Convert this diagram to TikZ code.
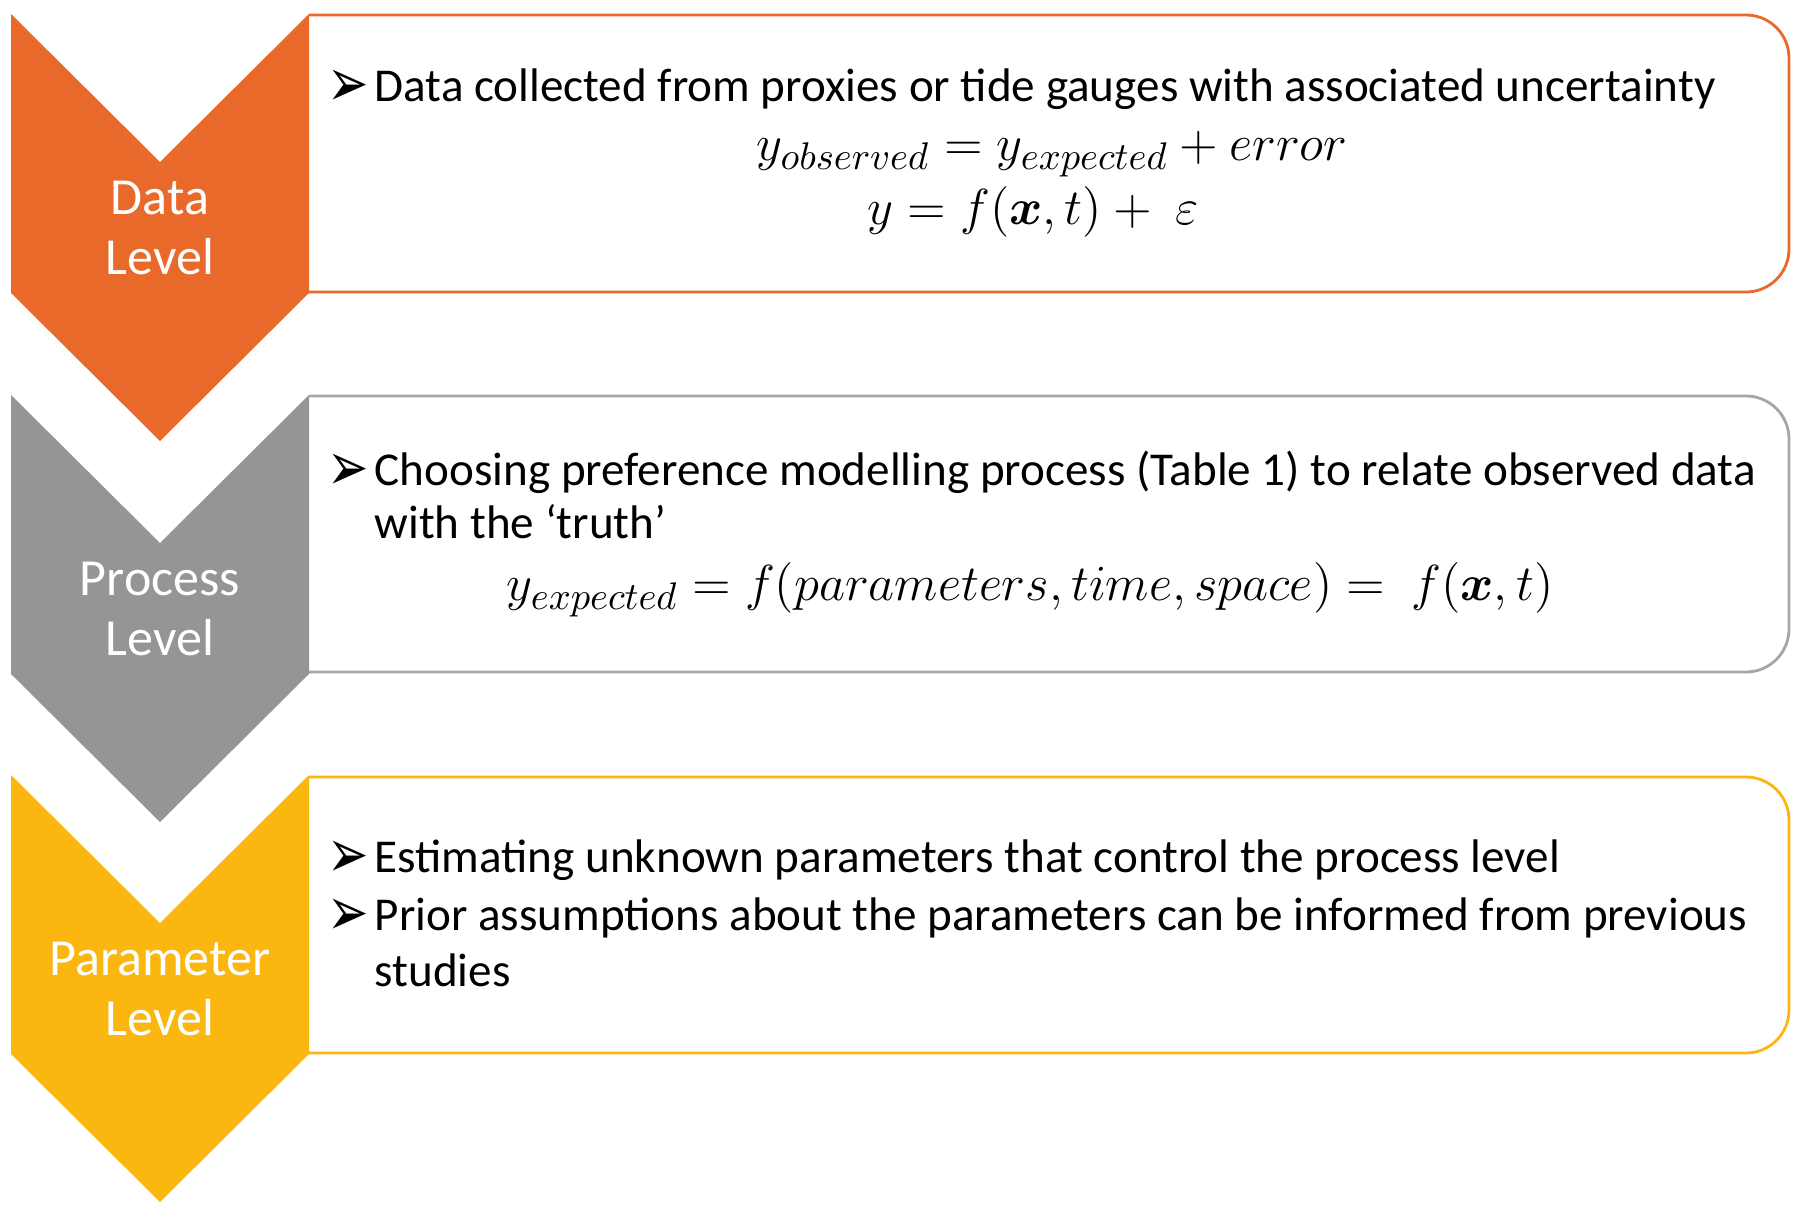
\documentclass[tikz,border=0pt]{standalone}
\usepackage{amsmath,amssymb,bm}
\usepackage{graphicx}
\usepackage{fontspec}
\setmainfont{Carlito}
\newfontfamily\dingfont{DejaVu Sans}
\usetikzlibrary{positioning}
\definecolor{dataorange}{HTML}{E8692A}
\definecolor{procgray}{HTML}{959595}
\definecolor{procline}{HTML}{A6A6A6}
\definecolor{paramyellow}{HTML}{FBB60F}
\newcommand{\arrowbul}{\raisebox{-1.6pt}{\scalebox{1.05}[1.45]{\dingfont\symbol{"27A2}}}}

\begin{document}
\begin{tikzpicture}[x=0.01cm, y=-0.01cm,
  lvltext/.style={text=white, align=center, inner sep=0pt, font=\fontsize{14.8}{17.1}\selectfont},
  boxline/.style={line width=0.8pt, rounded corners=0.43cm},
  itemtext/.style={anchor=base west, inner sep=0pt, font=\fontsize{13.4}{15.1}\selectfont},
  bul/.style={anchor=base east, inner sep=0pt, xshift=-1.2pt, font=\fontsize{13.4}{15.1}\selectfont},
  eqn/.style={anchor=base, inner sep=0pt, font=\fontsize{15.3}{17}\selectfont}]
\useasboundingbox (0,0) rectangle (1800,1206);

% --- data level ---
\draw[boxline, dataorange] (309,15) -- (1789,15) -- (1789,292) -- (309,292);
\fill[dataorange] (11,14) -- (160,162) -- (309,14) -- (309,293) -- (160,441) -- (11,293) -- cycle;
\node[lvltext] (datalbl) at (160,228) {Data\\Level};
\node[itemtext] (dataitem) at (374,101) {Data collected from proxies or tide gauges with associated uncertainty};
\node[bul] (databul) at (dataitem.base west) {\arrowbul};
\node[eqn] (dataeqa) at (1052,160) {$y_{observed} = y_{expected} + error$};
\node[eqn] (dataeqb) at (1033,224) {$y = f(\bm{x},t) +\ \varepsilon$};

% --- process level ---
\draw[boxline, procline] (309,396) -- (1789,396) -- (1789,672) -- (309,672);
\fill[procgray] (11,395) -- (160,543) -- (309,395) -- (309,674) -- (160,822) -- (11,674) -- cycle;
\node[lvltext] (proclbl) at (160,609) {Process\\Level};
\node[itemtext] (procitem) at (374,485) {\begin{tabular}[t]{@{}l@{}}Choosing preference modelling process (Table 1) to relate observed data\\with the ‘truth’\end{tabular}};
\node[bul] (procbul) at (procitem.base west) {\arrowbul};
\node[eqn] (proceq) at (1030,600) {\fontsize{15.1}{17}\selectfont$y_{expected} = f(parameters, time, space) =\ f(\bm{x},t)$};

% --- parameter level ---
\draw[boxline, paramyellow] (309,777) -- (1789,777) -- (1789,1053) -- (309,1053);
\fill[paramyellow] (11,775) -- (160,923) -- (309,775) -- (309,1054) -- (160,1202) -- (11,1054) -- cycle;
\node[lvltext] (paramlbl) at (160,989) {Parameter\\Level};
\node[itemtext] (paramitema) at (374,872) {Estimating unknown parameters that control the process level};
\node[bul] (parambula) at (paramitema.base west) {\arrowbul};
\node[itemtext] (paramitemb) at (374,930) {\begin{tabular}[t]{@{}l@{}}Prior assumptions about the parameters can be informed from previous\\[1.1pt]studies\end{tabular}};
\node[bul] (parambulb) at (paramitemb.base west) {\arrowbul};
\end{tikzpicture}
\end{document}
